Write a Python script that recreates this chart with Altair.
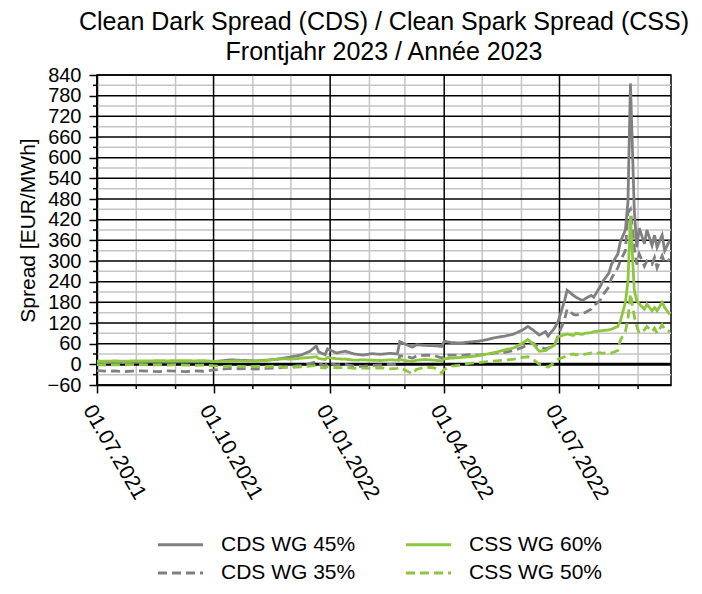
import altair as alt
import pandas as pd

# ---------------- data ----------------
dates = [
    "2021-07-01", "2021-07-08", "2021-07-15", "2021-07-22", "2021-07-29",
    "2021-08-05", "2021-08-12", "2021-08-19", "2021-08-26", "2021-09-02",
    "2021-09-09", "2021-09-16", "2021-09-23", "2021-09-30", "2021-10-07",
    "2021-10-14", "2021-10-21", "2021-10-28", "2021-11-04", "2021-11-11",
    "2021-11-18", "2021-11-25", "2021-12-02", "2021-12-09", "2021-12-16",
    "2021-12-21", "2021-12-23", "2021-12-28", "2021-12-30", "2022-01-06",
    "2022-01-13", "2022-01-20", "2022-01-27", "2022-02-03", "2022-02-10",
    "2022-02-17", "2022-02-23", "2022-02-25", "2022-03-03", "2022-03-07",
    "2022-03-10", "2022-03-17", "2022-03-24", "2022-03-30", "2022-04-01",
    "2022-04-07", "2022-04-14", "2022-04-21", "2022-04-28", "2022-05-05",
    "2022-05-12", "2022-05-19", "2022-05-26", "2022-06-02", "2022-06-06",
    "2022-06-10", "2022-06-15", "2022-06-20", "2022-06-22", "2022-06-27",
    "2022-06-30", "2022-07-05", "2022-07-07", "2022-07-12", "2022-07-14",
    "2022-07-19", "2022-07-21", "2022-07-26", "2022-07-28", "2022-08-02",
    "2022-08-04", "2022-08-09", "2022-08-11", "2022-08-16", "2022-08-18",
    "2022-08-22", "2022-08-24", "2022-08-26", "2022-08-29", "2022-08-31",
    "2022-09-02", "2022-09-06", "2022-09-08", "2022-09-12", "2022-09-14",
    "2022-09-16", "2022-09-20", "2022-09-22", "2022-09-26",
]
cds45 = [
    6, 5, 6, 5, 6, 6, 7, 6, 7, 7, 8, 7, 8, 8, 10, 13, 12, 11, 10, 12,
    14, 18, 22, 27, 38, 53, 36, 28, 45, 33, 38, 30, 27, 31, 29, 32, 30, 66, 56, 50,
    57, 55, 54, 52, 67, 63, 62, 65, 67, 72, 78, 82, 88, 100, 110, 100, 85, 95, 82, 105,
    125, 185, 215, 200, 195, 185, 190, 200, 195, 225, 240, 265, 290, 320, 355, 390, 470, 815, 450, 340,
    395, 350, 390, 345, 375, 340, 375, 330, 360,
]
cds35 = [
    -18, -20, -19, -21, -20, -19, -20, -21, -19, -20, -21, -19, -20, -17, -14, -12, -13, -12, -14, -12,
    -11, -9, -6, -3, 2, 8, 2, -4, 5, -2, 0, -5, -6, -3, -2, 0, -1, 25, 22, 18,
    24, 27, 26, 18, 26, 27, 26, 28, 27, 30, 33, 35, 40, 50, 56, 62, 50, 45, 47, 55,
    85, 130, 160, 145, 143, 148, 150, 160, 170, 185, 200, 225, 250, 280, 300, 330, 440, 450, 340, 290,
    320, 285, 300, 290, 310, 280, 315, 295, 305,
]
css60 = [
    9, 9, 10, 9, 10, 10, 10, 11, 10, 11, 11, 10, 11, 9, 8, 9, 10, 9, 10, 11,
    14, 16, 15, 18, 20, 22, 17, 14, 20, 16, 15, 12, 13, 12, 11, 13, 12, 14, 10, 8,
    12, 14, 12, 10, 16, 18, 20, 22, 25, 30, 35, 42, 48, 62, 72, 60, 38, 40, 45, 55,
    80, 86, 88, 84, 90, 87, 90, 92, 95, 97, 98, 100, 102, 110, 125, 180, 240, 430, 215, 185,
    175, 160, 175, 155, 165, 155, 180, 165, 145,
]
css50 = [
    -1, -2, -1, -2, -1, -1, -2, -1, -2, -1, -2, -3, -2, -4, -6, -5, -6, -7, -6, -7,
    -5, -8, -9, -7, -5, -3, -8, -11, -6, -10, -9, -12, -11, -12, -10, -13, -12, -10, -20, -28,
    -15, -8, -10, -25, -15, -5, -2, 3, 5, 8, 10, 12, 15, 20, 22, 15, 0, -5, -8, 5,
    15, 22, 28, 30, 27, 32, 29, 33, 30, 34, 32, 35, 33, 40, 70, 95, 130, 205, 140, 110,
    90, 100, 110, 95, 105, 90, 115, 100, 95,
]

# legend domain order (the legend fills column by column)
series_names = ["CDS WG 45%", "CDS WG 35%", "CSS WG 60%", "CSS WG 50%"]
series_values = [cds45, cds35, css60, css50]
series_colors = ["#808080", "#808080", "#8DC63F", "#8DC63F"]
series_dashes = [[1, 0], [9, 5], [1, 0], [9, 5]]

y_major = list(range(-60, 841, 60))
y_minor = list(range(-30, 841, 60))
x_major = ["2021-07-01", "2021-10-01", "2022-01-01", "2022-04-01", "2022-07-01"]
x_minor = ["2021-08-01", "2021-09-01", "2021-11-01", "2021-12-01", "2022-02-01",
           "2022-03-01", "2022-05-01", "2022-06-01", "2022-08-01", "2022-09-01"]

title_lines = ["Clean Dark Spread (CDS) / Clean Spark Spread (CSS)", "Frontjahr 2023 / Année 2023"]
y_title = "Spread [EUR/MWh]"

# ---------------- build ----------------
rows = []
for name, vals in zip(series_names, series_values):
    for d, v in zip(dates, vals):
        rows.append({"date": d, "value": v, "series": name})
df = pd.DataFrame(rows)

FONT = "Liberation Sans"
W, H = 574, 310
PAD_L, PAD_T = 89, 67
PAD_R = 686 - W - PAD_L
PAD_B = 578 - H - PAD_T

x_scale = alt.Scale(type="utc", domain=[alt.DateTime(year=2021, month=7, date=1, utc=True),
                                        alt.DateTime(year=2022, month=9, date=27, utc=True)], nice=False)
y_scale = alt.Scale(domain=[-60, 840], nice=False, zero=False)

x_axis = alt.Axis(
    values=[alt.DateTime(year=int(s[:4]), month=int(s[5:7]), date=1, utc=True) for s in x_major],
    format="%d.%m.%Y", labelAngle=60, labelAlign="left", labelBaseline="top",
    labelPadding=8, labelFont=FONT, labelFontSize=21, labelColor="black",
    tickSize=8, tickWidth=1.5, tickColor="black", domainColor="black", domainWidth=1.5,
    grid=False, title=None, labelOverlap=False, labelFlush=False)
y_axis = alt.Axis(
    values=y_major, labelFont=FONT, labelFontSize=20, labelColor="black",
    labelPadding=8, tickSize=8, tickWidth=1.5, tickColor="black",
    domainColor="black", domainWidth=1.5, grid=False,
    title=y_title, titleFont=FONT, titleFontSize=21, titleFontWeight="normal",
    titleColor="black", titlePadding=9, labelOverlap=False, labelFlush=False)

xmaj_df = pd.DataFrame({"d": x_major})
xmin_df = pd.DataFrame({"d": x_minor})
ymaj_df = pd.DataFrame({"v": y_major})
ymin_df = pd.DataFrame({"v": y_minor})
zero_df = pd.DataFrame({"v": [0]})


def yq(field):
    return alt.Y(field, type="quantitative", scale=y_scale, axis=y_axis, title=y_title)


def xt(field):
    return alt.X(field, type="temporal", scale=x_scale, axis=x_axis, title=None)


grid_minor_h = alt.Chart(ymin_df).mark_rule(color="#c4c4c4", strokeWidth=1.5).encode(y=yq("v"))
grid_minor_v = alt.Chart(xmin_df).mark_rule(color="#c4c4c4", strokeWidth=1.5).encode(x=xt("d"))
grid_major_h = alt.Chart(ymaj_df).mark_rule(color="black", strokeWidth=1.5).encode(y=yq("v"))
grid_major_v = alt.Chart(xmaj_df).mark_rule(color="black", strokeWidth=1.5).encode(x=xt("d"))
zero_line = alt.Chart(zero_df).mark_rule(color="black", strokeWidth=3).encode(y=yq("v"))
minor_ticks_y = alt.Chart(ymin_df).mark_rule(color="black", strokeWidth=1.5).encode(
    y=yq("v"), x=alt.value(-4), x2=alt.value(0))
minor_ticks_x = alt.Chart(xmin_df).mark_rule(color="black", strokeWidth=1.5).encode(
    x=xt("d"), y=alt.value(H), y2=alt.value(H + 4))

# long horizontal stroke symbol drawn beyond its unit box so the rows stay compact
legend = alt.Legend(
    title=None, orient="none", legendX=67, legendY=453, columns=2,
    symbolType="M-1.5,0H1.5", symbolSize=900, symbolStrokeWidth=3,
    labelFont=FONT, labelFontSize=21, labelColor="black", labelOffset=24,
    columnPadding=44, rowPadding=1.5, padding=0,
)

lines = alt.Chart(df).mark_line(strokeWidth=2.8).encode(
    x=xt("date"),
    y=yq("value"),
    color=alt.Color("series:N", scale=alt.Scale(domain=series_names, range=series_colors), legend=legend),
    strokeDash=alt.StrokeDash("series:N", scale=alt.Scale(domain=series_names, range=series_dashes), legend=legend),
    detail="series:N",
)

chart = alt.layer(
    grid_minor_h, grid_minor_v, grid_major_h, grid_major_v, zero_line,
    minor_ticks_y, minor_ticks_x, lines,
).properties(
    width=W, height=H,
    autosize=alt.AutoSizeParams(type="none"),
    padding={"left": PAD_L, "top": PAD_T, "right": PAD_R, "bottom": PAD_B},
    title=alt.TitleParams(text=title_lines, font=FONT, fontSize=25, fontWeight="normal",
                          color="black", anchor="middle", frame="group", lineHeight=30, offset=0),
).configure_view(stroke="black", strokeWidth=1.5)

chart.save("out.html", embed_options={"renderer": "svg", "actions": False})
